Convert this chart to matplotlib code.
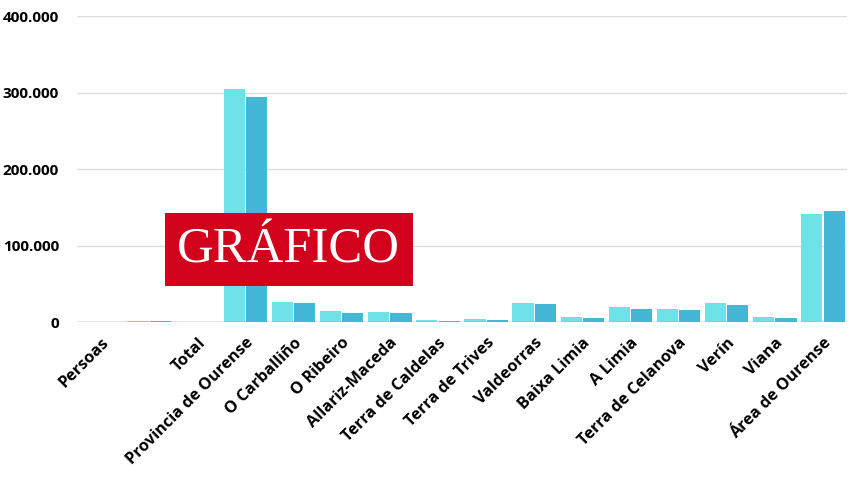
import numpy as np
import matplotlib.pyplot as plt
from matplotlib.patches import Rectangle
from matplotlib.ticker import FuncFormatter

# --- Data ---
categories = ["Persoas", "", "Total", "Provincia de Ourense", "O Carballiño", "O Ribeiro",
              "Allariz-Maceda", "Terra de Caldelas", "Terra de Trives", "Valdeorras",
              "Baixa Limia", "A Limia", "Terra de Celanova", "Verín", "Viana", "Área de Ourense"]
series_a = [0, 1800, 0, 305000, 26500, 14800, 13900, 2600, 3900, 25200,
            6900, 20400, 17400, 25200, 6900, 141200]
series_b = [0, 2300, 0, 294500, 25600, 12200, 12200, 1700, 3000, 23500,
            5600, 17000, 15700, 23000, 5600, 145900]
yticks = [0, 100000, 200000, 300000, 400000]

color_a = "#6de3e8"
color_b = "#44b7d6"

plt.rcParams['font.family'] = ['Open Sans', 'DejaVu Sans']

fig = plt.figure(figsize=(8.5, 4.78), dpi=100)
ax = fig.add_axes([0.0906, 0.3257, 0.9059, 0.6403])

x = np.arange(len(categories))
w = 0.44
ax.bar(x - w / 2 - 0.012, series_a, width=w, color=color_a, linewidth=0, zorder=3)
ax.bar(x + w / 2 + 0.012, series_b, width=w, color=color_b, linewidth=0, zorder=3)

ax.set_xlim(-0.5, len(categories) - 0.5)
ax.set_ylim(0, 400000)
ax.set_yticks(yticks)
ax.yaxis.set_major_formatter(FuncFormatter(lambda v, p: f"{int(v):,}".replace(",", ".")))
ax.grid(axis="y", color="#dddddd", linewidth=1.0, zorder=0)
ax.axhline(0, color="#999999", linewidth=1.0, zorder=4)

for s in ax.spines.values():
    s.set_visible(False)
ax.tick_params(axis="both", length=0)
ax.tick_params(axis="y", pad=13, labelsize=11)
for lbl in ax.get_yticklabels():
    lbl.set_fontweight("bold")

ax.set_xticks(x)
ax.set_xticklabels(categories, rotation=45, ha="right", rotation_mode="anchor",
                   fontsize=11.7, fontweight="bold")
ax.tick_params(axis="x", pad=9)

# red overlay label
fig.patches.append(Rectangle((0.194, 0.4010), 0.2915, 0.1527, transform=fig.transFigure,
                             facecolor="#d2011c", edgecolor="none", zorder=10))
fig.text(0.3394, 0.4775, "GRÁFICO", color="white", fontsize=36.5,
         family="Liberation Serif", ha="center", va="center", zorder=11)

fig.savefig("out.png", dpi=100)
